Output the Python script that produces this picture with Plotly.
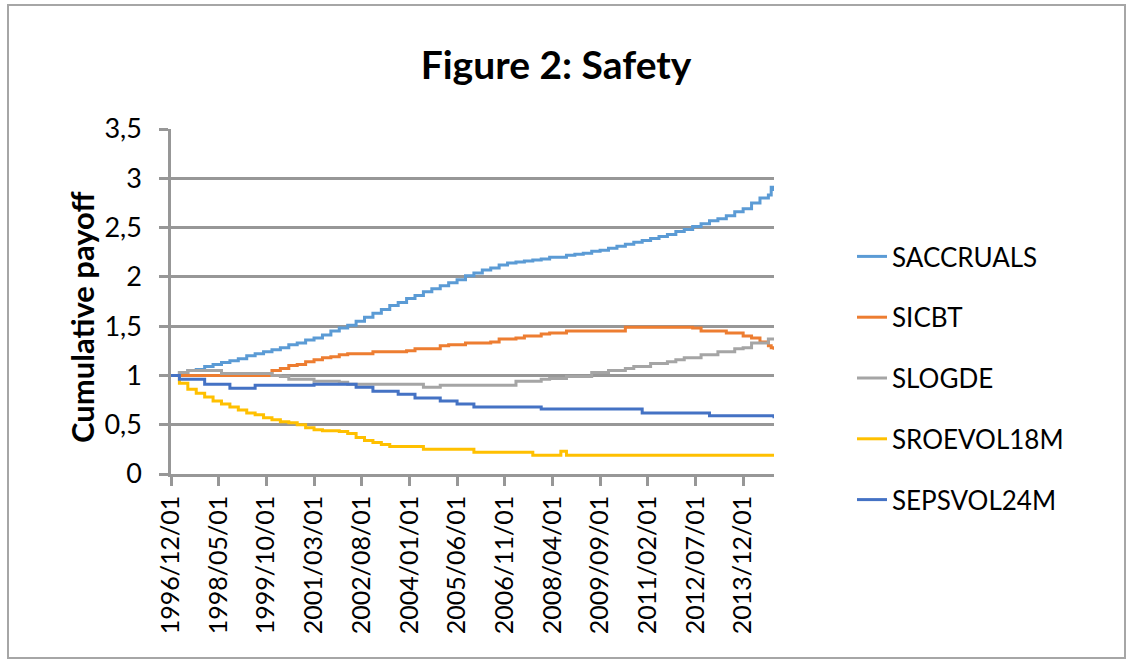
import pandas as pd
import plotly.graph_objects as go

# ---------------- data ----------------
# all monthly categories of the axis
months = [d.strftime("%Y/%m/%d") for d in pd.date_range("1996-12-01", "2014-11-01", freq="MS")]

# observation dates (quarterly, plus a few extra months)
obs_dates = [d.strftime("%Y/%m/%d") for d in pd.date_range("1996-12-01", "2014-09-01", freq="3MS")]
obs_dates = sorted(set(obs_dates + ["2008/07/01", "2014/10/01", "2014/11/01"]))

tick_labels = ["1996/12/01", "1998/05/01", "1999/10/01", "2001/03/01", "2002/08/01",
               "2004/01/01", "2005/06/01", "2006/11/01", "2008/04/01", "2009/09/01",
               "2011/02/01", "2012/07/01", "2013/12/01"]

saccruals = [1.00, 1.03, 1.05, 1.06, 1.09, 1.11, 1.13, 1.15, 1.17, 1.20, 1.22, 1.24,
             1.26, 1.28, 1.31, 1.33, 1.36, 1.38, 1.41, 1.45, 1.48, 1.51, 1.55, 1.59,
             1.63, 1.67, 1.71, 1.74, 1.78, 1.81, 1.85, 1.88, 1.91, 1.94, 1.97, 2.01,
             2.04, 2.07, 2.09, 2.12, 2.14, 2.15, 2.16, 2.17, 2.18, 2.20, 2.20, 2.20,
             2.22, 2.23, 2.24, 2.26, 2.27, 2.29, 2.31, 2.33, 2.35, 2.37, 2.39, 2.41,
             2.43, 2.46, 2.48, 2.51, 2.54, 2.57, 2.59, 2.62, 2.66, 2.69, 2.75, 2.80,
             2.83, 2.91, 2.87]

sicbt = [1.00, 1.00, 1.00, 1.00, 1.00, 1.00, 1.00, 1.00, 1.00, 1.00, 1.00, 1.00,
         1.05, 1.07, 1.10, 1.11, 1.14, 1.16, 1.18, 1.19, 1.21, 1.22, 1.22, 1.22,
         1.24, 1.24, 1.24, 1.24, 1.25, 1.27, 1.27, 1.27, 1.30, 1.31, 1.31, 1.33,
         1.33, 1.33, 1.34, 1.37, 1.37, 1.38, 1.40, 1.40, 1.42, 1.43, 1.43, 1.43,
         1.45, 1.45, 1.45, 1.45, 1.45, 1.45, 1.45, 1.49, 1.49, 1.49, 1.49, 1.49,
         1.49, 1.49, 1.49, 1.48, 1.45, 1.45, 1.45, 1.43, 1.43, 1.40, 1.38, 1.34,
         1.30, 1.28, 1.26]

slogde = [1.00, 1.03, 1.05, 1.05, 1.05, 1.05, 1.02, 1.02, 1.02, 1.02, 1.02, 1.02,
          1.00, 0.99, 0.96, 0.96, 0.96, 0.94, 0.94, 0.94, 0.93, 0.91, 0.91, 0.91,
          0.91, 0.91, 0.91, 0.91, 0.91, 0.91, 0.88, 0.88, 0.90, 0.90, 0.90, 0.90,
          0.90, 0.90, 0.90, 0.90, 0.90, 0.94, 0.94, 0.94, 0.96, 0.97, 0.97, 0.97,
          0.99, 0.99, 0.99, 1.03, 1.03, 1.05, 1.05, 1.07, 1.09, 1.09, 1.12, 1.12,
          1.14, 1.16, 1.18, 1.18, 1.21, 1.21, 1.24, 1.24, 1.27, 1.28, 1.33, 1.33,
          1.37, 1.37, 1.37]

sroevol18m = [1.00, 0.92, 0.86, 0.82, 0.78, 0.74, 0.71, 0.68, 0.65, 0.62, 0.60, 0.57,
              0.55, 0.53, 0.52, 0.50, 0.47, 0.45, 0.44, 0.44, 0.43, 0.41, 0.37, 0.34,
              0.32, 0.30, 0.28, 0.28, 0.28, 0.28, 0.25, 0.25, 0.25, 0.25, 0.25, 0.25,
              0.22, 0.22, 0.22, 0.22, 0.22, 0.22, 0.22, 0.19, 0.19, 0.19, 0.19, 0.23,
              0.19, 0.19, 0.19, 0.19, 0.19, 0.19, 0.19, 0.19, 0.19, 0.19, 0.19, 0.19,
              0.19, 0.19, 0.19, 0.19, 0.19, 0.19, 0.19, 0.19, 0.19, 0.19, 0.19, 0.19,
              0.19, 0.19, 0.19]

sepsvol24m = [1.00, 0.96, 0.96, 0.96, 0.91, 0.91, 0.91, 0.87, 0.87, 0.87, 0.90, 0.90,
              0.90, 0.90, 0.90, 0.90, 0.90, 0.91, 0.91, 0.91, 0.91, 0.91, 0.88, 0.88,
              0.84, 0.84, 0.84, 0.81, 0.81, 0.77, 0.77, 0.77, 0.74, 0.74, 0.71, 0.71,
              0.68, 0.68, 0.68, 0.68, 0.68, 0.68, 0.68, 0.68, 0.66, 0.66, 0.66, 0.66,
              0.66, 0.66, 0.66, 0.66, 0.66, 0.66, 0.66, 0.66, 0.66, 0.62, 0.62, 0.62,
              0.62, 0.62, 0.62, 0.62, 0.62, 0.59, 0.59, 0.59, 0.59, 0.59, 0.59, 0.59,
              0.59, 0.59, 0.565]

series = [
    ("SACCRUALS", saccruals, "#5B9BD5"),
    ("SICBT", sicbt, "#ED7D31"),
    ("SLOGDE", slogde, "#A5A5A5"),
    ("SROEVOL18M", sroevol18m, "#FFC000"),
    ("SEPSVOL24M", sepsvol24m, "#4472C4"),
]
for name, vals, _ in series:
    assert len(vals) == len(obs_dates), (name, len(vals), len(obs_dates))

# ---------------- figure ----------------
W, H = 1136, 664
ML, MR, MT, MB = 171, 362, 129, 190
PW, PH = W - ML - MR, H - MT - MB


def px_x(px):
    return (px - ML) / PW


def px_y(py):
    return (H - MB - py) / PH


FONT = "Lato, Carlito, Calibri, sans-serif"
GRID = "#979797"

fig = go.Figure()
for name, vals, color in series:
    fig.add_trace(go.Scatter(
        x=obs_dates, y=vals, name=name, mode="lines",
        line=dict(color=color, width=3, shape="hv"),
        legendgroup=name,
    ))

fig.update_layout(
    width=W, height=H,
    margin=dict(l=ML, r=MR, t=MT, b=MB, pad=0),
    paper_bgcolor="white", plot_bgcolor="white",
    separators=",.",
    font=dict(family=FONT, color="black"),
    title=dict(text="<b>Figure 2: Safety</b>", font=dict(size=39, family=FONT, color="black"),
               x=556 / W, xanchor="center", y=1 - 65 / H, yanchor="middle"),
    showlegend=True,
    legend=dict(x=px_x(852), xanchor="left", y=px_y(233), yanchor="top",
                font=dict(size=26, family=FONT, color="black"),
                tracegroupgap=24, bgcolor="rgba(0,0,0,0)"),
    xaxis=dict(type="category", categoryorder="array", categoryarray=months,
               range=[0, len(months) - 1], tickmode="array",
               tickvals=tick_labels, ticktext=tick_labels, tickangle=-90,
               tickfont=dict(size=25, family=FONT, color="black"),
               ticks="outside", ticklen=9, tickwidth=2.5, tickcolor=GRID,
               showline=True, linecolor=GRID, linewidth=2.5, showgrid=False,
               zeroline=False),
    yaxis=dict(range=[0, 3.5], dtick=0.5, tick0=0, tickformat=",.1~f",
               tickfont=dict(size=27, family=FONT, color="black"),
               ticks="outside", ticklen=9, tickwidth=2.5, tickcolor=GRID,
               ticklabelstandoff=12,
               showline=True, linecolor=GRID, linewidth=2.5,
               showgrid=True, gridcolor=GRID, gridwidth=2.5, zeroline=False),
    annotations=[dict(text="<b>Cumulative payoff</b>", textangle=-90,
                      x=px_x(82), y=px_y(317), xref="paper", yref="paper",
                      xanchor="center", yanchor="middle",
                      showarrow=False, font=dict(size=31, family=FONT, color="black"))],
    shapes=[dict(type="rect", xref="paper", yref="paper",
                 x0=px_x(8), x1=px_x(1125), y0=px_y(658), y1=px_y(5),
                 line=dict(color="#A6A6A6", width=2), layer="below")],
)

fig.write_html("out.html", config={"displayModeBar": False},
               post_script="document.body.style.margin='0';")
